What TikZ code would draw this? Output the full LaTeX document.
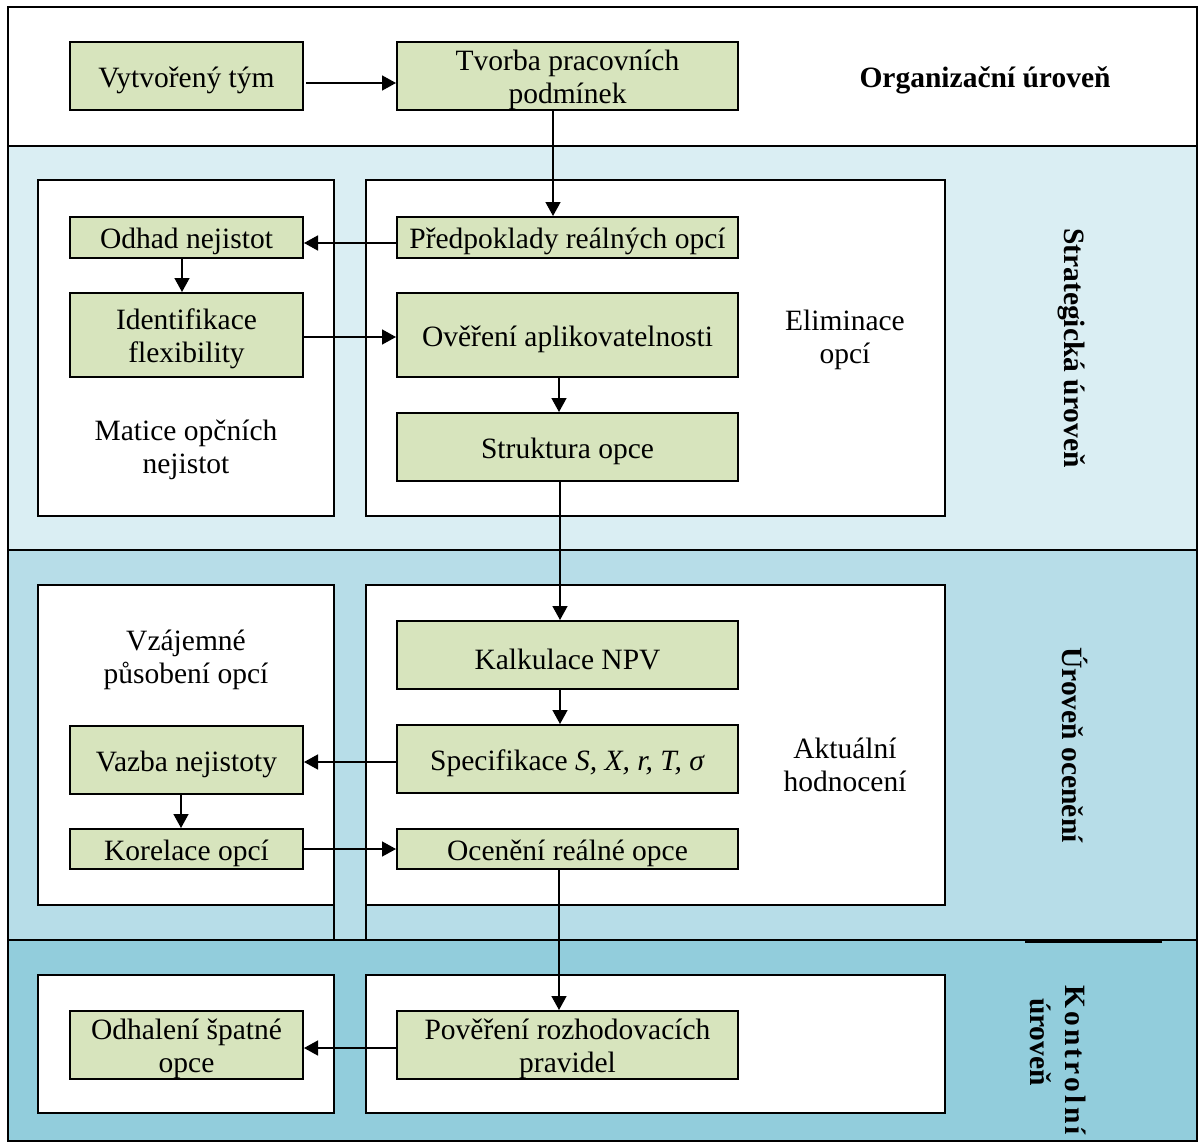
\documentclass[tikz,border=0pt]{standalone}
\usepackage{fontspec}
\setmainfont{Liberation Serif}
\usetikzlibrary{arrows.meta}
\definecolor{boxgreen}{HTML}{D7E4BD}
\definecolor{bandA}{HTML}{DAEEF3}
\definecolor{bandB}{HTML}{B7DDE8}
\definecolor{bandC}{HTML}{92CDDC}
\tikzset{
  txt/.style={align=center, inner sep=0pt, font=\fontsize{29.5}{33}\selectfont},
  gbox/.style={draw, fill=boxgreen, line width=2pt, inner sep=0pt, minimum width=233pt,
    label={[txt, yshift=-4pt]center:#1}},
  wide/.style={minimum width=341pt},
  plain/.style={txt},
  side/.style={align=center, inner sep=0pt, font=\fontsize{29.5}{35}\selectfont\bfseries, rotate=-90},
  wbox/.style={draw, fill=white, line width=2pt},
  arr/.style={line width=1.5pt, -{Triangle[length=14pt,width=15pt]}},
  frame/.style={line width=2pt}
}
\begin{document}
\begin{tikzpicture}[x=1pt,y=-1pt]
\useasboundingbox (0,0) rectangle (1198,1142);
% bands
\fill[white] (8,7) rectangle (1197,146);
\fill[bandA] (8,146) rectangle (1197,550);
\fill[bandB] (8,550) rectangle (1197,940);
\fill[bandC] (8,940) rectangle (1197,1141);
\draw[frame] (8,146) -- (1197,146);
\draw[frame] (8,550) -- (1197,550);
\draw[frame] (8,940) -- (1197,940);
\draw[line width=3pt] (1025,941) -- (1162,941);
\draw[frame] (8,7) rectangle (1197,1141);
% white containers
\draw[wbox] (38,180) rectangle (334,516);
\draw[wbox] (366,180) rectangle (945,516);
\draw[wbox] (38,585) rectangle (334,905);
\draw[wbox] (366,585) rectangle (945,905);
\draw[frame] (334,905) -- (334,940);
\draw[frame] (366,905) -- (366,940);
\draw[wbox] (38,975) rectangle (334,1113);
\draw[wbox] (366,975) rectangle (945,1113);
% green boxes
\node[gbox={Vytvořený tým}, minimum height=68pt] (vt) at (186.5,76) {};
\node[gbox={Tvorba pracovních\\podmínek}, wide, minimum height=68pt] (tv) at (567.5,76) {};
\node[gbox={Odhad nejistot}, minimum height=41pt] (on) at (186.5,237.5) {};
\node[gbox={Předpoklady reálných opcí}, wide, minimum height=41pt] (pr) at (567.5,237.5) {};
\node[gbox={Identifikace\\flexibility}, minimum height=84pt] (id) at (186.5,335) {};
\node[gbox={Ověření aplikovatelnosti}, wide, minimum height=84pt] (ov) at (567.5,335) {};
\node[gbox={Struktura opce}, wide, minimum height=68pt] (st) at (567.5,447) {};
\node[gbox={Kalkulace NPV}, wide, minimum height=68pt] (kn) at (567.5,655) {};
\node[gbox={Vazba nejistoty}, minimum height=68pt] (vn) at (186.5,760) {};
\node[gbox={Specifikace \textit{S, X, r, T, σ}}, wide, minimum height=68pt] (sp) at (567.5,759) {};
\node[gbox={Korelace opcí}, minimum height=40pt] (ko) at (186.5,849) {};
\node[gbox={Ocenění reálné opce}, wide, minimum height=40pt] (oc) at (567.5,849) {};
\node[gbox={Odhalení špatné\\opce}, minimum height=68pt] (odh) at (186.5,1045) {};
\node[gbox={Pověření rozhodovacích\\pravidel}, wide, minimum height=68pt] (pov) at (567.5,1045) {};
% plain labels
\node[plain, font=\fontsize{29.5}{33}\selectfont\bfseries] (org) at (985,80) {Organizační úroveň};
\node[plain] (elim) at (845,340) {Eliminace\\opcí};
\node[plain] (mat) at (186,450) {Matice opčních\\nejistot};
\node[plain] (vza) at (186,660) {Vzájemné\\působení opcí};
\node[plain] (akt) at (845,765) {Aktuální\\hodnocení};
\node[side] (strat) at (1072,348) {Strategická úroveň};
\node[side] (ocen) at (1075,745) {Úroveň ocenění};
\node[side, align=left] (kontr) at (1058,1060)
  {\makebox[150pt][s]{K\hfil o\hfil n\hfil t\hfil r\hfil o\hfil l\hfil n\hfil í}\\\hspace*{13pt}úroveň};
% arrows
\draw[arr] ([xshift=2pt,yshift=-7pt]vt.east) -- ([yshift=-7pt]tv.west);
\draw[arr] ([xshift=-14.5pt]tv.south) -- ([xshift=-14.5pt]pr.north);
\draw[arr] ([yshift=-5.5pt]pr.west) -- ([yshift=-5.5pt]on.east);
\draw[arr] ([xshift=-4.5pt]on.south) -- ([xshift=-4.5pt]id.north);
\draw[arr] ([yshift=-2pt]id.east) -- ([yshift=-2pt]ov.west);
\draw[arr] ([xshift=-8.5pt]ov.south) -- ([xshift=-8.5pt]st.north);
\draw[arr] ([xshift=-7.5pt]st.south) -- ([xshift=-7.5pt]kn.north);
\draw[arr] ([xshift=-7.5pt]kn.south) -- ([xshift=-7.5pt]sp.north);
\draw[arr] ([yshift=-3pt]sp.west) -- ([yshift=-2pt]vn.east);
\draw[arr] ([xshift=-5.5pt]vn.south) -- ([xshift=-5.5pt]ko.north);
\draw[arr] (ko.east) -- (oc.west);
\draw[arr] ([xshift=-8.5pt]oc.south) -- ([xshift=-8.5pt]pov.north);
\draw[arr] ([yshift=-3pt]pov.west) -- ([yshift=-3pt]odh.east);
\end{tikzpicture}
\end{document}
